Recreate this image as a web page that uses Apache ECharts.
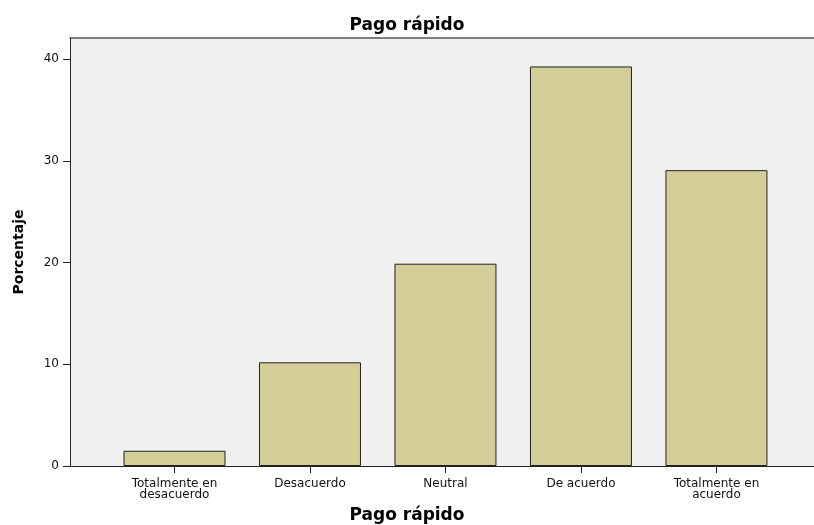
<!DOCTYPE html>
<html>
<head>
<meta charset="utf-8">
<script src="https://cdn.jsdelivr.net/npm/echarts@6/dist/echarts.min.js"></script>
<style>
  html, body { margin: 0; padding: 0; background: #fff; }
  #chart { width: 814px; height: 525px; }
</style>
</head>
<body>
<div id="chart"></div>
<script>
const categories = ['Totalmente en\ndesacuerdo', 'Desacuerdo', 'Neutral', 'De acuerdo', 'Totalmente en\nacuerdo']
const percentages = [1.5, 10.2, 19.9, 39.3, 29.1]
const yTicks = [0, 10, 20, 30, 40]
const xPositions = [1, 2, 3, 4, 5]

const chart = echarts.init(document.getElementById('chart'))

const titleStyle = { fontFamily: 'DejaVu Sans', fontWeight: 'bold', fontSize: 17, color: '#000' }

chart.setOption({
  animation: false,
  title: [
    { text: 'Pago rápido', left: 'center', top: 12, textStyle: titleStyle },
    { text: 'Pago rápido', left: 'center', top: 502, textStyle: titleStyle }
  ],
  grid: {
    left: 70,
    right: 0,
    top: 38,
    bottom: 59,
    show: true,
    backgroundColor: '#f0f0f0',
    borderWidth: 0
  },
  xAxis: [{
    type: 'value',
    // category centres sit at 1..5, the frame is cut off at the right edge
    min: 0.2288,
    max: 5.72,
    axisLine: { show: true, lineStyle: { color: '#222', width: 1 } },
    axisTick: { show: true, length: 7, customValues: xPositions, lineStyle: { color: '#222' } },
    axisLabel: {
      customValues: xPositions,
      margin: 12,
      fontFamily: 'DejaVu Sans',
      fontSize: 12,
      lineHeight: 11,
      color: '#111',
      formatter: v => categories[Math.round(v) - 1] || ''
    },
    splitLine: { show: false }
  }, {
    // top edge of the frame only
    type: 'value',
    position: 'top',
    min: 0.2288,
    max: 5.72,
    axisLine: { show: true, lineStyle: { color: '#555', width: 1.5 } },
    axisTick: { show: false },
    axisLabel: { show: false },
    splitLine: { show: false }
  }],
  yAxis: {
    type: 'value',
    min: 0,
    max: 42.1,
    name: 'Porcentaje',
    nameLocation: 'middle',
    nameGap: 44,
    nameTextStyle: { fontFamily: 'DejaVu Sans', fontWeight: 'bold', fontSize: 14, color: '#000' },
    axisLine: { show: true, lineStyle: { color: '#222', width: 1 } },
    axisTick: { show: true, length: 7, customValues: yTicks, lineStyle: { color: '#222' } },
    axisLabel: {
      customValues: yTicks,
      margin: 11,
      fontFamily: 'DejaVu Sans',
      fontSize: 12,
      color: '#111'
    },
    splitLine: { show: false }
  },
  series: [{
    type: 'bar',
    barWidth: 102,
    data: percentages.map((p, i) => [xPositions[i], p]),
    itemStyle: { color: '#d3ce97', borderColor: '#222', borderWidth: 1 }
  }]
})
</script>
</body>
</html>
